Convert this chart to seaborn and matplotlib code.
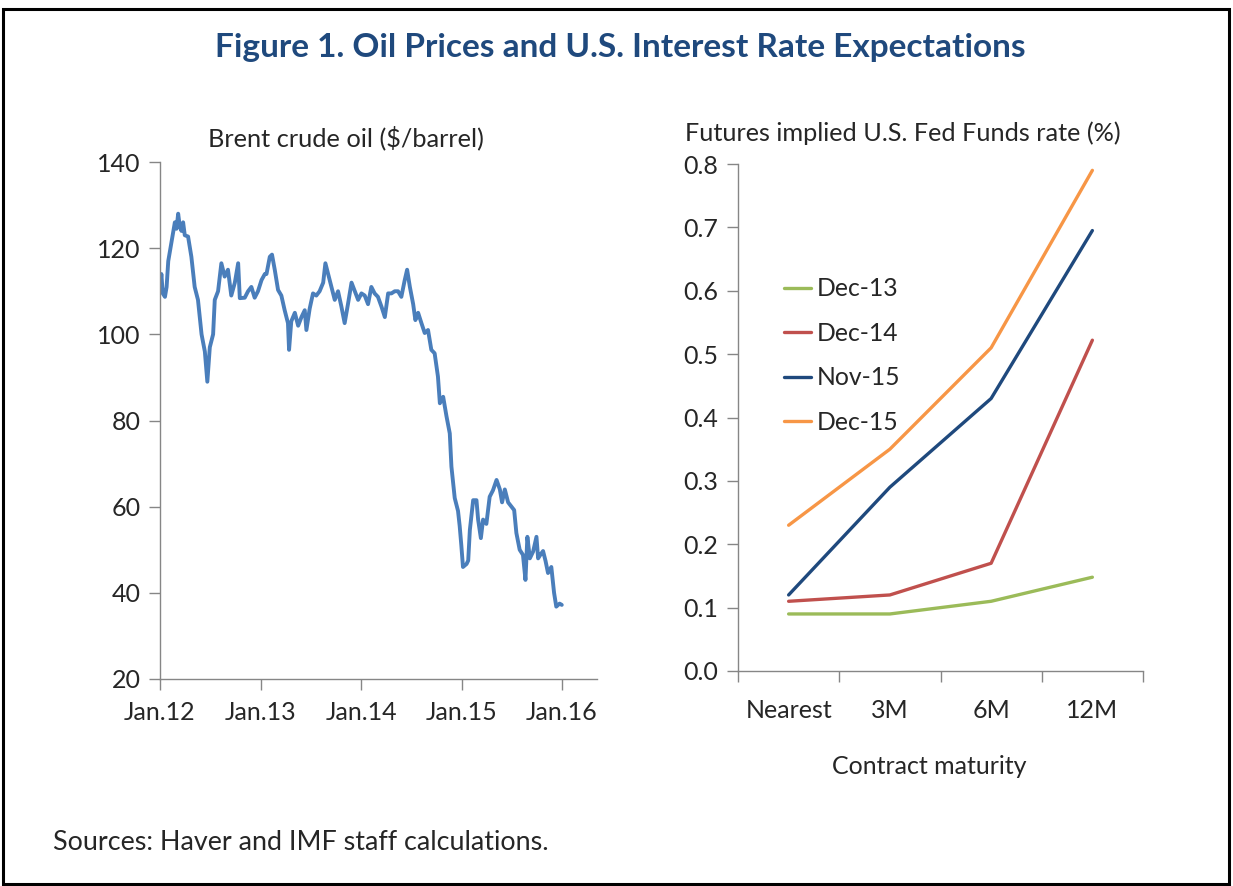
import matplotlib
matplotlib.use("Agg")
import matplotlib.pyplot as plt
from matplotlib.patches import Rectangle
import seaborn as sns
import pandas as pd

# ---------------- data ----------------
oil_dates = [
    "2012-01-02", "2012-01-06", "2012-01-11", "2012-01-19", "2012-01-25", "2012-01-31",
    "2012-02-12", "2012-02-24", "2012-03-01", "2012-03-07", "2012-03-13", "2012-03-19",
    "2012-03-25", "2012-03-31", "2012-04-12", "2012-04-24", "2012-05-06", "2012-05-18",
    "2012-05-31", "2012-06-12", "2012-06-21", "2012-06-30", "2012-07-12", "2012-07-18",
    "2012-07-30", "2012-08-11", "2012-08-23", "2012-09-04", "2012-09-16", "2012-09-29",
    "2012-10-11", "2012-10-17", "2012-11-04", "2012-11-16", "2012-11-28", "2012-12-10",
    "2012-12-22", "2013-01-04", "2013-01-16", "2013-01-22", "2013-02-03", "2013-02-11",
    "2013-02-21", "2013-03-05", "2013-03-17", "2013-03-29", "2013-04-10", "2013-04-14",
    "2013-04-22", "2013-05-05", "2013-05-17", "2013-05-29", "2013-06-10", "2013-06-16",
    "2013-06-28", "2013-07-10", "2013-07-22", "2013-08-03", "2013-08-16", "2013-08-24",
    "2013-09-03", "2013-09-15", "2013-09-27", "2013-10-09", "2013-10-21", "2013-11-02",
    "2013-11-14", "2013-11-27", "2013-12-09", "2013-12-21", "2014-01-02", "2014-01-14",
    "2014-01-26", "2014-02-07", "2014-02-19", "2014-03-03", "2014-03-16", "2014-03-28",
    "2014-04-09", "2014-04-21", "2014-05-03", "2014-05-15", "2014-05-27", "2014-06-08",
    "2014-06-17", "2014-06-27", "2014-07-09", "2014-07-17", "2014-07-27", "2014-08-08",
    "2014-08-20", "2014-09-01", "2014-09-13", "2014-09-25", "2014-10-07", "2014-10-14",
    "2014-10-26", "2014-11-07", "2014-11-19", "2014-11-25", "2014-12-07", "2014-12-19",
    "2014-12-25", "2014-12-31", "2015-01-06", "2015-01-19", "2015-01-25", "2015-01-31",
    "2015-02-12", "2015-02-24", "2015-03-02", "2015-03-12", "2015-03-20", "2015-04-01",
    "2015-04-13", "2015-04-25", "2015-05-08", "2015-05-20", "2015-05-28", "2015-06-07",
    "2015-06-19", "2015-07-01", "2015-07-11", "2015-07-19", "2015-07-31", "2015-08-12",
    "2015-08-21", "2015-08-28", "2015-09-06", "2015-09-18", "2015-09-30", "2015-10-06",
    "2015-10-16", "2015-10-24", "2015-11-02", "2015-11-11", "2015-11-23", "2015-12-03",
    "2015-12-11", "2015-12-23", "2015-12-31",
]
oil_prices = [
    111, 114, 109.5, 108.7, 111, 117,
    121.5, 126, 124.5, 128, 125, 124,
    126, 123, 122.7, 118, 111, 108,
    100, 96, 89, 97, 100, 108,
    110, 116.5, 113.4, 115, 109, 112,
    116.5, 108.4, 108.5, 110, 111, 108.5,
    110, 112.6, 114, 114, 118, 118.5,
    115, 110.3, 109, 105.6, 102.6, 96.4,
    103, 105, 102, 104, 105.6, 101,
    106, 109.5, 109, 110, 112, 116.5,
    114, 111, 108, 110, 106.5, 102.6,
    107, 112, 110, 108, 109.5, 109,
    107, 111, 109.5, 108.7, 106.4, 104,
    109.5, 109.5, 110, 110, 108.7, 112.5,
    115, 111, 107, 103.3, 105, 102.6,
    100.3, 101, 96.4, 95.6, 90.2, 84,
    85.5, 81, 77, 69.3, 62, 59,
    55.5, 51, 46, 46.7, 47.5, 54.6,
    61.5, 61.5, 57, 52.7, 57, 56,
    62.3, 63.8, 66.2, 64, 61, 64,
    61, 60, 59.2, 53.9, 50, 48.8,
    43, 53, 48, 49.6, 53, 48,
    49, 49.7, 47.4, 44.6, 46, 40,
    36.8, 37.5, 37.2,
]

maturities = ["Nearest", "3M", "6M", "12M"]
dec13 = [0.09, 0.09, 0.11, 0.148]
dec14 = [0.11, 0.12, 0.17, 0.522]
nov15 = [0.12, 0.29, 0.43, 0.695]
dec15 = [0.23, 0.35, 0.51, 0.79]
series_names = ["Dec-13", "Dec-14", "Nov-15", "Dec-15"]

# ---------------- style ----------------
sns.set_theme(style="ticks")
plt.rcParams["font.family"] = ["Lato", "DejaVu Sans"]

W, H = 1233, 886
fig = plt.figure(figsize=(W / 100, H / 100), dpi=100)

def fx(px):
    return px / W

def fy(py):
    return 1 - py / H

spine_col = "#868686"
tick_fs = 18

# outer border
fig.patches.append(Rectangle((fx(3), fy(884)), fx(1229) - fx(3), fy(9) - fy(884),
                             transform=fig.transFigure, fill=False,
                             edgecolor="black", linewidth=2.2))

fig.text(fx(620), fy(47), "Figure 1. Oil Prices and U.S. Interest Rate Expectations",
         ha="center", va="center", fontsize=24, fontweight="bold", color="#1F497D")

# ---------------- left panel ----------------
axL = fig.add_axes([fx(160), fy(679), fx(597) - fx(160), fy(162) - fy(679)])
oil_df = pd.DataFrame({"date": pd.to_datetime(oil_dates), "price": oil_prices})
sns.lineplot(data=oil_df, x="date", y="price", ax=axL, color="#4A7EBB", linewidth=2.8)
axL.set_xlim(pd.Timestamp("2012-01-01"), pd.Timestamp("2016-05-07"))
axL.set_ylim(20, 140)
axL.set_yticks([20, 40, 60, 80, 100, 120, 140])
year_ticks = pd.to_datetime(["2012-01-01", "2013-01-01", "2014-01-01", "2015-01-01", "2016-01-01"])
axL.set_xticks(year_ticks)
axL.set_xticklabels(["Jan.12", "Jan.13", "Jan.14", "Jan.15", "Jan.16"])
axL.set_xlabel("")
axL.set_ylabel("")
fig.text(fx(346), fy(138), "Brent crude oil ($/barrel)", ha="center", va="center",
         fontsize=18.3)

# ---------------- right panel ----------------
axR = fig.add_axes([fx(738), fy(671), fx(1143) - fx(738), fy(164) - fy(671)])
rate_df = pd.DataFrame({
    "maturity": maturities * 4,
    "pos": list(range(4)) * 4,
    "rate": dec13 + dec14 + nov15 + dec15,
    "series": [n for n in series_names for _ in maturities],
})
palette = {"Dec-13": "#9BBB59", "Dec-14": "#C0504D", "Nov-15": "#1F497D", "Dec-15": "#F79646"}
sns.lineplot(data=rate_df, x="pos", y="rate", hue="series", palette=palette,
             hue_order=series_names, ax=axR, linewidth=2.4, sort=False)
axR.set_xlim(-0.5, 3.5)
axR.set_ylim(0, 0.8)
axR.set_yticks([0, 0.1, 0.2, 0.3, 0.4, 0.5, 0.6, 0.7, 0.8])
axR.yaxis.set_major_formatter(matplotlib.ticker.FormatStrFormatter("%.1f"))
axR.set_xticks(range(4))
axR.set_xticklabels(maturities)
axR.set_xticks([-0.5, 0.5, 1.5, 2.5, 3.5], minor=True)
axR.tick_params(axis="x", which="major", length=0, pad=20)
axR.tick_params(axis="x", which="minor", length=8, width=1, color=spine_col, direction="out")
axR.set_ylabel("")
axR.set_xlabel("")
fig.text(fx(929), fy(767), "Contract maturity", ha="center", va="center", fontsize=tick_fs)
fig.text(fx(903), fy(133), "Futures implied U.S. Fed Funds rate (%)", ha="center",
         va="center", fontsize=18.2)
axR.legend(frameon=False, loc="center left", bbox_to_anchor=(0.058, 0.622),
           fontsize=17.8, handlelength=1.1, handletextpad=0.25, labelspacing=0.87)

for ax in (axL, axR):
    sns.despine(ax=ax)
    for s in ("left", "bottom"):
        ax.spines[s].set_color(spine_col)
        ax.spines[s].set_linewidth(1.0)
    ax.tick_params(axis="y", length=8, width=1, color=spine_col, labelsize=tick_fs, pad=6)
    ax.tick_params(axis="x", labelsize=tick_fs)
    ax.grid(False)
axL.tick_params(axis="x", length=8, width=1, color=spine_col, pad=8)

fig.text(fx(53), fy(842), "Sources: Haver and IMF staff calculations.",
         ha="left", va="center", fontsize=19.4)

fig.savefig("out.png", dpi=100)
